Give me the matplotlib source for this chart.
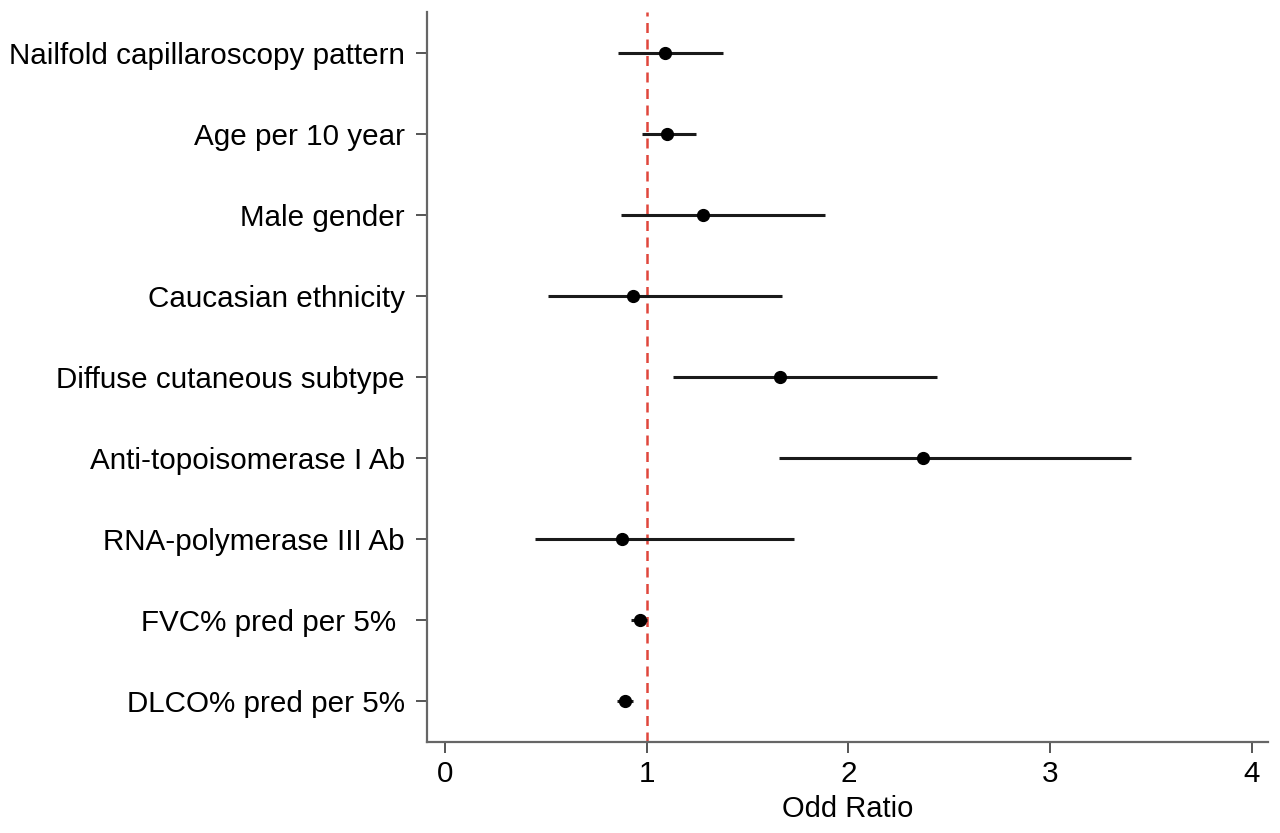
import matplotlib
matplotlib.use("Agg")
import matplotlib.pyplot as plt

# variables from top to bottom
labels = ["Nailfold capillaroscopy pattern", "Age per 10 year", "Male gender",
          "Caucasian ethnicity", "Diffuse cutaneous subtype", "Anti-topoisomerase I Ab",
          "RNA-polymerase III Ab", "FVC% pred per 5% ", "DLCO% pred per 5%"]
odds = [1.09, 1.10, 1.28, 0.93, 1.66, 2.37, 0.875, 0.965, 0.89]
ci_low = [0.855, 0.975, 0.873, 0.51, 1.13, 1.655, 0.447, 0.92, 0.85]
ci_high = [1.38, 1.245, 1.885, 1.67, 2.44, 3.40, 1.73, 1.0, 0.93]

plt.rcParams['font.family'] = ['Liberation Sans', 'DejaVu Sans']

fig = plt.figure(figsize=(12.8, 8.33), dpi=100)
ax = fig.add_axes([0.3336, 0.1092, 0.6570, 0.8764])

ypos = list(range(1, len(labels) + 1))

ax.axvline(1, color="#e0463c", linestyle=(0, (4, 2.6)), linewidth=1.8, zorder=1)
ax.hlines(ypos, ci_low, ci_high, color="#1a1a1a", linewidth=2.2, zorder=2)
ax.plot(odds, ypos, "o", color="black", markersize=8.5, zorder=3)

ax.set_ylim(9.5, 0.5)
ax.set_xlim(-0.09, 4.08)
ax.set_yticks(ypos)
ax.set_yticklabels(labels)
ax.set_xticks([0, 1, 2, 3, 4])
ax.set_xlabel("Odd Ratio", fontsize=21, labelpad=5)

for side in ["top", "right"]:
    ax.spines[side].set_visible(False)
for side in ["left", "bottom"]:
    ax.spines[side].set_color("#666666")
    ax.spines[side].set_linewidth(1.6)

ax.tick_params(axis="both", colors="#555555", labelcolor="black", labelsize=21.3,
               length=8, width=1.4)
ax.tick_params(axis="y", pad=8)
ax.tick_params(axis="x", pad=5)

fig.savefig("out.png", dpi=100)
